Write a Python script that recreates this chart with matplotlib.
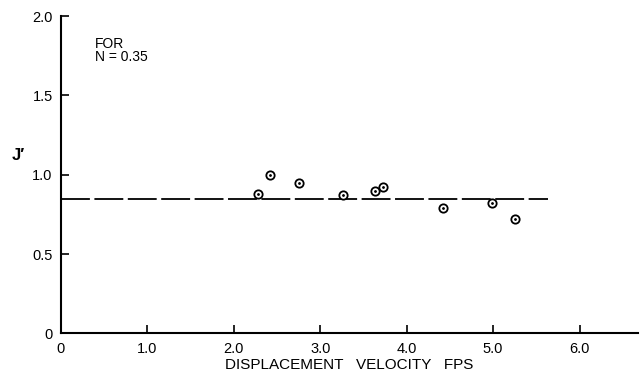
import numpy as np
import matplotlib
matplotlib.use('Agg')
import matplotlib.pyplot as plt

plt.rcParams['font.family'] = ['Liberation Sans', 'DejaVu Sans']

# measured points, J' against displacement velocity (fps)
velocity = [2.28, 2.42, 2.75, 3.26, 3.63, 3.73, 4.42, 4.99, 5.25]
j_prime = [0.88, 1.00, 0.95, 0.875, 0.90, 0.925, 0.79, 0.82, 0.72]

# mean line
mean_x = [0.0, 5.63]
mean_j = [0.85, 0.85]

x_ticks = [0, 1, 2, 3, 4, 5, 6]
x_labels = ['0', '1.0', '2.0', '3.0', '4.0', '5.0', '6.0']
y_ticks = [0, 0.5, 1.0, 1.5, 2.0]
y_labels = ['0', '0.5', '1.0', '1.5', '2.0']

fig = plt.figure(figsize=(6.4, 3.75), dpi=100)
ax = fig.add_axes([0.0953, 0.111, 0.902, 0.846])

ax.plot(mean_x, mean_j, color='black', lw=1.3, dashes=(16, 2.5))
ax.plot(velocity, j_prime, 'o', ms=6, mfc='white', mec='black', mew=1.3)
ax.plot(velocity, j_prime, '.', ms=2, color='black')

ax.set_xlim(0, 6.68)
ax.set_ylim(0, 2.0)
ax.set_xticks(x_ticks)
ax.set_xticklabels(x_labels)
ax.set_yticks(y_ticks)
ax.set_yticklabels(y_labels)
ax.tick_params(direction='in', length=6, width=1.2, labelsize=10.5, pad=6)

for s in ['top', 'right']:
    ax.spines[s].set_visible(False)
for s in ['left', 'bottom']:
    ax.spines[s].set_linewidth(1.5)

ax.set_xlabel('DISPLACEMENT   VELOCITY   FPS', fontsize=11, labelpad=2)
fig.text(0.028, 0.585, "J\u2032", fontsize=12, fontweight='bold', ha='center', va='center')
ax.text(0.39, 1.87, 'FOR\nN = 0.35', fontsize=10, ha='left', va='top', linespacing=0.9)

fig.savefig('out.png', dpi=100)
